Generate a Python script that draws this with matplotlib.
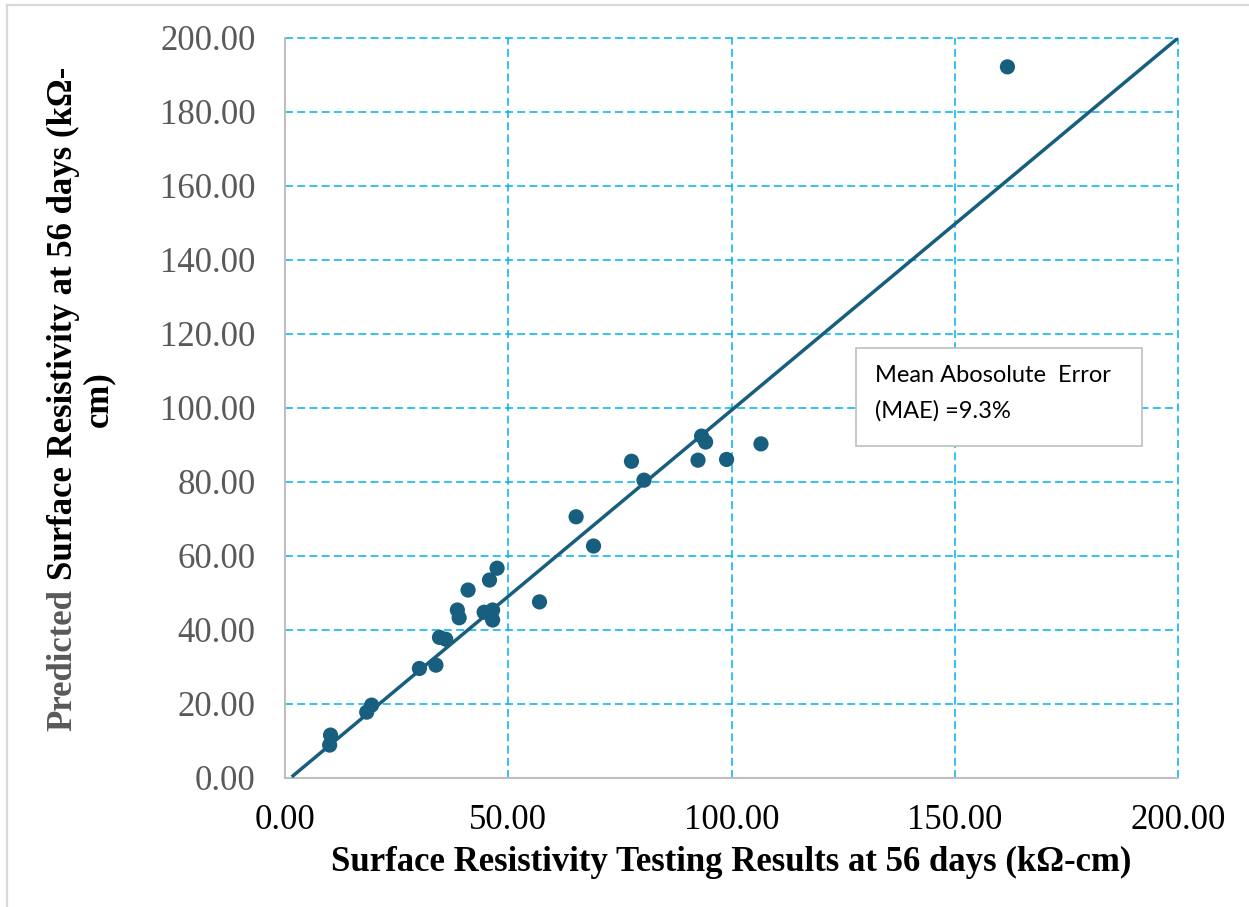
import matplotlib
matplotlib.use("Agg")
import matplotlib.pyplot as plt
from matplotlib.lines import Line2D
from matplotlib.patches import Rectangle

# Measured vs predicted surface resistivity at 56 days (kOhm-cm)
measured = [161.8, 93.3, 94.2, 92.5, 98.9, 106.6, 77.6, 80.4, 65.2, 69.1,
            57.0, 47.5, 45.8, 41.0, 38.6, 39.0, 44.6, 46.5, 46.5, 34.6,
            36.0, 33.8, 30.1, 19.4, 18.3, 10.2, 10.0]
predicted = [192.2, 92.4, 90.8, 85.9, 86.1, 90.3, 85.6, 80.5, 70.6, 62.7,
             47.6, 56.7, 53.5, 50.8, 45.4, 43.3, 44.8, 45.4, 42.7, 38.0,
             37.5, 30.5, 29.6, 19.7, 17.8, 11.6, 8.9]

# Reference line end points
ref_x = [1.5, 200.0]
ref_y = [0.3, 200.0]

x_ticks = [0, 50, 100, 150, 200]
y_ticks = [0, 20, 40, 60, 80, 100, 120, 140, 160, 180, 200]

mae_text = "Mean Abosolute  Error\n(MAE) =9.3%"

W, H = 1249, 907
fig = plt.figure(figsize=(W / 100, H / 100), dpi=100)
fig.patch.set_facecolor("white")

ax = fig.add_axes([285 / W, 1 - 778 / H, (1178 - 285) / W, (778 - 38) / H])
ax.set_xlim(0, 200)
ax.set_ylim(0, 200)

point_color = "#175E7F"
ax.plot(ref_x, ref_y, color=point_color, lw=2.5, zorder=3, solid_capstyle="butt")
ax.scatter(measured, predicted, s=120, color=point_color, edgecolors="none", zorder=4)

serif = "Liberation Serif"
tick_size = 25
label_size = 25
ax.set_xticks(x_ticks)
ax.set_yticks(y_ticks)
ax.set_xticklabels([f"{v:.2f}" for v in x_ticks], fontfamily=serif, fontsize=tick_size, color="black")
ax.set_yticklabels([f"{v:.2f}" for v in y_ticks], fontfamily=serif, fontsize=tick_size, color="#595959")
ax.tick_params(axis="both", length=0)
ax.tick_params(axis="x", pad=19)
ax.tick_params(axis="y", pad=21)

ax.grid(True, color="#00B0F0", lw=1.1, linestyle=(0, (5.2, 2.8)))
ax.set_axisbelow(True)
for gl in ax.get_xgridlines() + ax.get_ygridlines():
    gl.set_clip_on(False)

for side in ("top", "right"):
    ax.spines[side].set_visible(False)
for side in ("left", "bottom"):
    ax.spines[side].set_color("#BFBFBF")
    ax.spines[side].set_linewidth(1.5)

# Axis titles
fig.text(731.5 / W, 1 - 862 / H, "Surface Resistivity Testing Results at 56 days (kΩ-cm)",
         fontfamily=serif, fontsize=label_size, fontweight="bold", color="black",
         ha="center", va="center")

line1 = "Predicted Surface Resistivity at 56 days (kΩ-"
head, tail = "Predicted", "Surface Resistivity at 56 days (kΩ-"
lx1, ly = 63 / W, 1 - 399 / H
probe = fig.text(lx1, ly, line1, fontfamily=serif, fontsize=label_size, fontweight="bold",
                 rotation=90, rotation_mode="anchor", ha="center", va="center")
fig.canvas.draw()
bb = probe.get_window_extent(fig.canvas.get_renderer())
probe.remove()
fig.text(lx1, bb.y0 / H, head, fontfamily=serif, fontsize=label_size, fontweight="bold",
         color="#595959", rotation=90, rotation_mode="anchor", ha="left", va="center")
fig.text(lx1, bb.y1 / H, tail, fontfamily=serif, fontsize=label_size, fontweight="bold",
         color="black", rotation=90, rotation_mode="anchor", ha="right", va="center")
fig.text(99 / W, ly, "cm)", fontfamily=serif, fontsize=label_size, fontweight="bold",
         color="black", rotation=90, rotation_mode="anchor", ha="center", va="center")

# Annotation box
box = Rectangle((856 / W, 1 - 446 / H), (1142 - 856) / W, (446 - 348) / H,
                transform=fig.transFigure, facecolor="white", edgecolor="#BFBFBF",
                lw=1.2, zorder=5)
fig.add_artist(box)
fig.text(875 / W, 1 - 382 / H, mae_text.split("\n")[0], fontfamily="Lato", fontsize=17,
         color="black", ha="left", va="baseline", zorder=6)
fig.text(875 / W, 1 - 418 / H, mae_text.split("\n")[1], fontfamily="Lato", fontsize=17,
         color="black", ha="left", va="baseline", zorder=6)

# Chart area outline (left and top edges)
fig.add_artist(Line2D([7 / W, 7 / W], [0, 1 - 5 / H], transform=fig.transFigure,
                      color="#D9D9D9", lw=1.6))
fig.add_artist(Line2D([7 / W, 1], [1 - 5 / H, 1 - 5 / H], transform=fig.transFigure,
                      color="#D9D9D9", lw=1.6))

fig.savefig("out.png", dpi=100, facecolor="white")
